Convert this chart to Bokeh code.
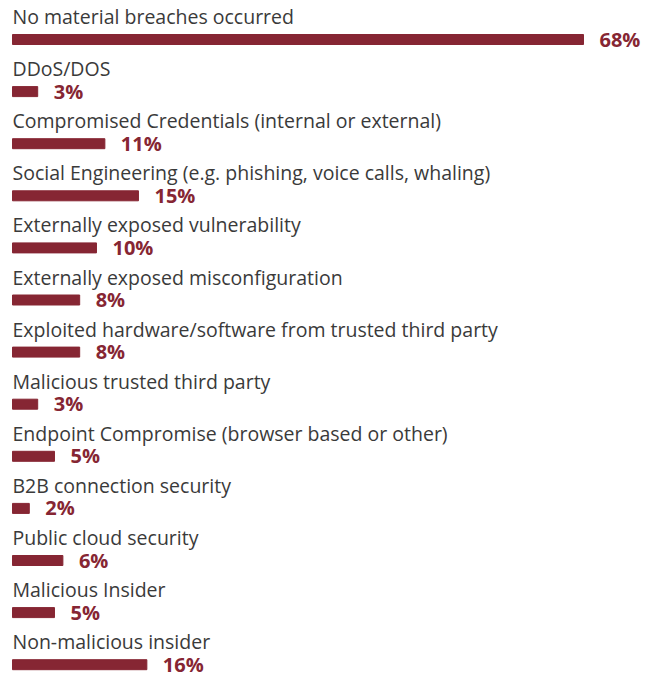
from bokeh.plotting import figure
from bokeh.models import ColumnDataSource, Range1d
from bokeh.core.properties import value
from bokeh.embed import file_html
from bokeh.resources import INLINE

categories = [
    "No material breaches occurred",
    "DDoS/DOS",
    "Compromised Credentials (internal or external)",
    "Social Engineering (e.g. phishing, voice calls, whaling)",
    "Externally exposed vulnerability",
    "Externally exposed misconfiguration",
    "Exploited hardware/software from trusted third party",
    "Malicious trusted third party",
    "Endpoint Compromise (browser based or other)",
    "B2B connection security",
    "Public cloud security",
    "Malicious Insider",
    "Non-malicious insider",
]
values = [68, 3, 11, 15, 10, 8, 8, 3, 5, 2, 6, 5, 16]
labels = [f"{v}%" for v in values]

BAR = "#862633"
W, H = 649, 677
px_per_unit = (583 - 12) / 68.0
x0 = -12 / px_per_unit
x1 = x0 + W / px_per_unit
row = 52.1
top_px = 39.0
y_top = -top_px / row
y_bot = (H - top_px) / row

src = ColumnDataSource(dict(
    y=list(range(len(categories))),
    cat=categories,
    val=values,
    lab=labels,
    zero=[0] * len(values),
))

p = figure(width=W, height=H, output_backend="svg", toolbar_location=None,
           x_range=Range1d(x0, x1), y_range=Range1d(y_bot, y_top),
           min_border=0, outline_line_color=None)
p.axis.visible = False
p.grid.visible = False
p.background_fill_color = "white"
p.border_fill_color = "white"

p.hbar(y="y", left="zero", right="val", height=10 / row, color=BAR, source=src)

p.text(x="zero", y="y", text="cat", source=src, text_font=value("Open Sans"),
       text_font_size="19.5px", text_color="#3a3a3a", text_baseline="alphabetic",
       y_offset=-23)

p.text(x="val", y="y", text="lab", source=src, text_font=value("Open Sans"),
       text_font_style="bold", text_font_size="20px", text_color=BAR,
       text_baseline="middle", x_offset=16, y_offset=-0.5)

open("out.html", "w").write(file_html(p, INLINE))
